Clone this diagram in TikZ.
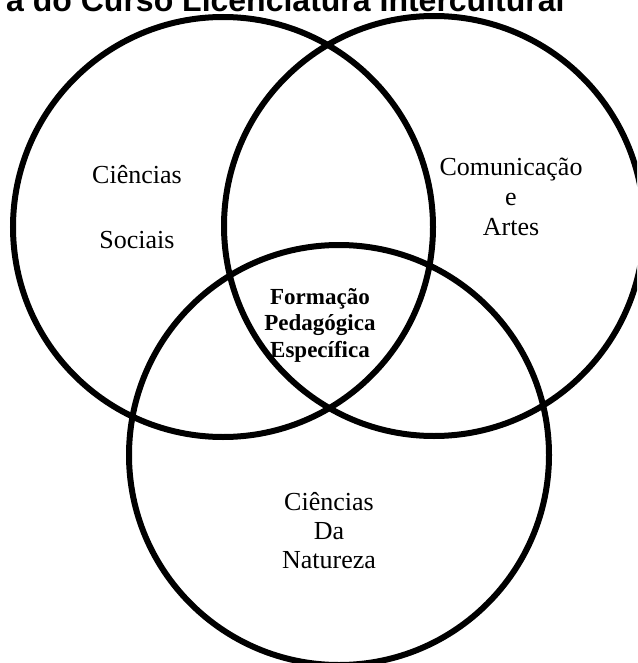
\documentclass[tikz,border=0pt]{standalone}
\usepackage{fontspec}
\setmainfont{Liberation Serif}
\newfontfamily\titlefont{Liberation Sans}
\begin{document}
\begin{tikzpicture}[x=1pt,y=-1pt,
  ring/.style={circle,draw=black,line width=6pt,inner sep=0pt,minimum size=420pt},
  lbl/.style={align=center,inner sep=0pt,anchor=base,font=\fontsize{26}{30}\selectfont},
  core/.style={align=center,inner sep=0pt,anchor=base,font=\bfseries\fontsize{23}{26.5}\selectfont}]
\useasboundingbox (0,0) rectangle (637,663);
\clip (0,0) rectangle (637,663);
\node[anchor=base west,inner sep=0pt,font=\titlefont\bfseries\fontsize{32}{38}\selectfont] (title) at (6,12) {a do Curso Licenciatura Intercultural};
\node[ring] (left) at (223,227) {};
\node[ring] (right) at (434,226) {};
\node[ring] (bottom) at (339,455) {};
\node[lbl] (soc) at (137,248) {Ciências\\[35pt]Sociais};
\node[lbl] (com) at (511,235) {Comunicação\\e\\Artes};
\node[core] (form) at (320,357) {Formação\\Pedagógica\\Específica};
\node[lbl,font=\fontsize{26}{29}\selectfont] (nat) at (329,568) {Ciências\\Da\\Natureza};
\end{tikzpicture}
\end{document}
